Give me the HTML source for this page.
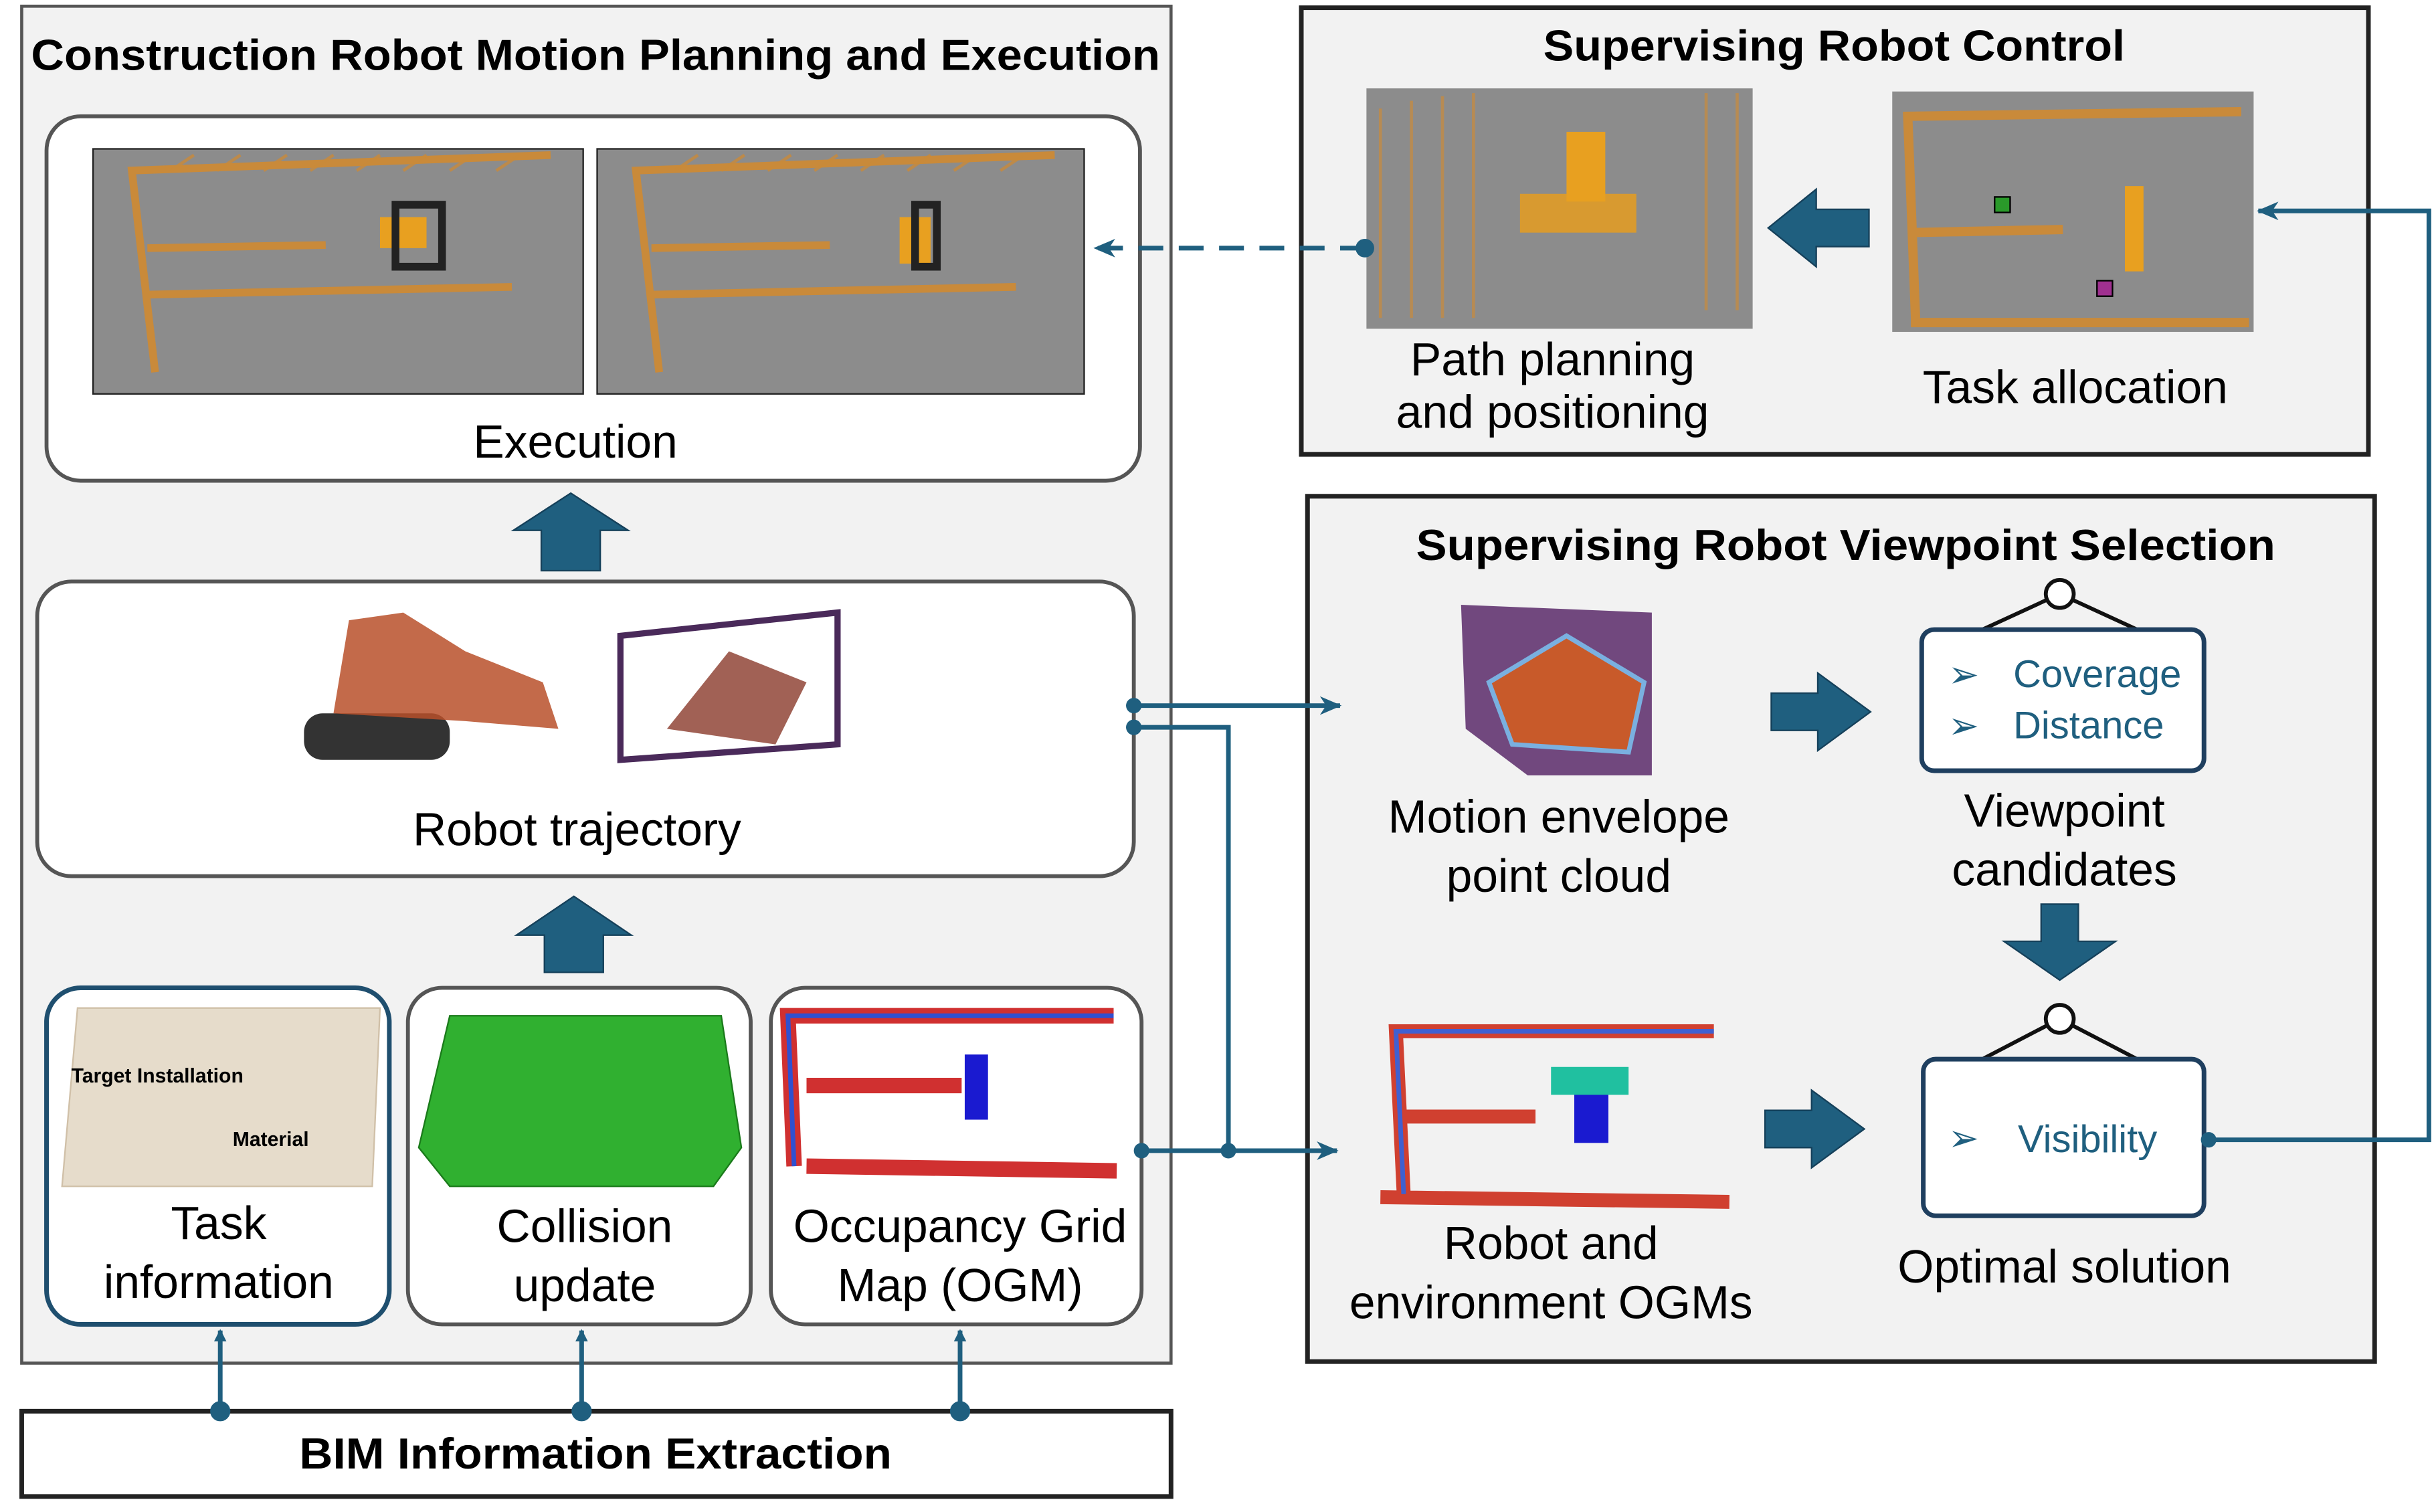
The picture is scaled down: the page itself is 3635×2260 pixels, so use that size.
<!DOCTYPE html>
<html><head><meta charset="utf-8"><style>html,body{margin:0;padding:0;background:#fff}svg{display:block}text{font-family:"Liberation Sans",sans-serif}.b{font-size:30px}</style></head>
<body>
<svg width="3635" height="2260" viewBox="0 0 1568 975" preserveAspectRatio="none" xmlns="http://www.w3.org/2000/svg">
<defs>
<marker id="ah" markerWidth="8" markerHeight="8" refX="7" refY="4" orient="auto" markerUnits="userSpaceOnUse"><path d="M0,0 L8,4 L0,8 Z" fill="#1f5f7f"/></marker>
<marker id="ah2" markerWidth="14" markerHeight="12" refX="13" refY="6" orient="auto" markerUnits="userSpaceOnUse"><path d="M0,0 L14,6 L0,12 L4,6 Z" fill="#1f5f7f"/></marker>
</defs>
<rect x="14" y="4" width="741" height="875" fill="#f2f2f2" stroke="#555" stroke-width="2"/>
<text x="20" y="45" font-size="28" font-weight="bold" textLength="728" lengthAdjust="spacingAndGlyphs">Construction Robot Motion Planning and Execution</text>
<rect x="30" y="75" width="705" height="235" rx="22" fill="#fff" stroke="#555" stroke-width="2.5"/>
<rect x="60" y="96" width="316" height="158" fill="#8c8c8c" stroke="#222"/>
<rect x="385" y="96" width="314" height="158" fill="#8c8c8c" stroke="#222"/>
<g fill="none" stroke="#c98a3a" stroke-width="5">
<path d="M100,240 L85,110 L355,100 M95,190 L330,185 M95,160 L210,158"/>
<path d="M425,240 L410,110 L680,100 M420,190 L655,185 M420,160 L535,158"/>
</g>
<g fill="none" stroke="#c98a3a" stroke-width="2" opacity="0.8">
<path d="M110,110 L125,100 M140,110 L155,100 M170,110 L185,100 M200,110 L215,100 M230,110 L245,100 M260,110 L275,100 M290,110 L305,100 M320,110 L335,100"/>
<path d="M435,110 L450,100 M465,110 L480,100 M495,110 L510,100 M525,110 L540,100 M555,110 L570,100 M585,110 L600,100 M615,110 L630,100 M645,110 L660,100"/>
</g>
<rect x="245" y="140" width="30" height="20" fill="#e8a020"/><rect x="255" y="132" width="30" height="40" fill="none" stroke="#222" stroke-width="5"/>
<rect x="580" y="140" width="20" height="30" fill="#e8a020"/><rect x="590" y="132" width="14" height="40" fill="none" stroke="#222" stroke-width="5"/>
<text x="371" y="295" class="b" text-anchor="middle">Execution</text>
<path d="M331,342 L368,318 L405,342 L387,342 L387,368 L349,368 L349,342 Z" fill="#1f5f7f" stroke="#15405a"/>
<rect x="24" y="375" width="707" height="190" rx="22" fill="#fff" stroke="#555" stroke-width="2.5"/>
<rect x="196" y="460" width="94" height="30" rx="12" fill="#333"/>
<path d="M215,460 L225,400 L260,395 L300,420 L350,440 L360,470 L300,465 Z" fill="#b8502a" opacity="0.85"/>
<path d="M400,490 L400,410 L540,395 L540,480 Z" fill="none" stroke="#4a2a5a" stroke-width="4"/>
<path d="M430,470 L470,420 L520,440 L500,480 Z" fill="#8a3a2a" opacity="0.8"/>
<text x="372" y="545" class="b" text-anchor="middle">Robot trajectory</text>
<path d="M333,603 L370,578 L407,603 L389,603 L389,627 L351,627 L351,603 Z" fill="#1f5f7f" stroke="#15405a"/>
<rect x="30" y="637" width="221" height="217" rx="22" fill="#fff" stroke="#1f4f6f" stroke-width="3"/>
<path d="M40,765 L50,650 L245,650 L240,765 Z" fill="#e6dccb" stroke="#d0c0a8"/>
<text x="46" y="698" font-size="13" font-weight="bold">Target Installation</text>
<text x="150" y="739" font-size="13" font-weight="bold">Material</text>
<text x="141" y="799" class="b" text-anchor="middle">Task</text>
<text x="141" y="837" class="b" text-anchor="middle">information</text>
<rect x="263" y="637" width="221" height="217" rx="22" fill="#fff" stroke="#555" stroke-width="2.5"/>
<path d="M270,740 L290,655 L465,655 L478,740 L460,765 L290,765 Z" fill="#30b030" stroke="#1a7a1a"/>
<text x="377" y="801" class="b" text-anchor="middle">Collision</text>
<text x="377" y="839" class="b" text-anchor="middle">update</text>
<rect x="497" y="637" width="239" height="217" rx="22" fill="#fff" stroke="#555" stroke-width="2.5"/>
<path d="M512,752 L508,655 L718,655 M520,700 L620,700 M520,752 L720,755" fill="none" stroke="#d03030" stroke-width="10"/>
<path d="M512,752 L508,655 L718,655" fill="none" stroke="#3050d0" stroke-width="3"/>
<rect x="622" y="680" width="15" height="42" fill="#1a1ad0"/>
<text x="619" y="801" class="b" text-anchor="middle">Occupancy Grid</text>
<text x="619" y="839" class="b" text-anchor="middle">Map (OGM)</text>
<rect x="14" y="910" width="741" height="55" fill="#fff" stroke="#222" stroke-width="3"/>
<text x="193" y="947" font-size="28" font-weight="bold" textLength="382" lengthAdjust="spacingAndGlyphs">BIM Information Extraction</text>
<g stroke="#1f5f7f" stroke-width="3" fill="#1f5f7f">
<line x1="142" y1="910" x2="142" y2="858" marker-end="url(#ah)"/><circle cx="142" cy="910" r="5"/>
<line x1="375" y1="910" x2="375" y2="858" marker-end="url(#ah)"/><circle cx="375" cy="910" r="5"/>
<line x1="619" y1="910" x2="619" y2="858" marker-end="url(#ah)"/><circle cx="619" cy="910" r="5"/>
</g>
<rect x="839" y="5" width="688" height="288" fill="#f2f2f2" stroke="#222" stroke-width="3"/>
<text x="995" y="39" font-size="28" font-weight="bold" textLength="375" lengthAdjust="spacingAndGlyphs">Supervising Robot Control</text>
<rect x="881" y="57" width="249" height="155" fill="#8c8c8c"/>
<g stroke="#c98a3a" stroke-width="2" fill="none" opacity="0.7"><path d="M890,70 L890,205 M910,65 L910,205 M930,62 L930,205 M950,60 L950,205 M1100,60 L1100,200 M1120,60 L1120,200"/></g>
<rect x="980" y="125" width="75" height="25" fill="#d89a30"/><rect x="1010" y="85" width="25" height="45" fill="#e8a020"/>
<rect x="1220" y="59" width="233" height="155" fill="#8c8c8c"/>
<path d="M1235,205 L1230,75 L1445,72 M1232,150 L1330,148 M1232,208 L1450,208" fill="none" stroke="#c98a3a" stroke-width="6"/>
<rect x="1370" y="120" width="12" height="55" fill="#e8a020"/>
<rect x="1286" y="127" width="10" height="10" fill="#2a9a2a" stroke="#000"/><rect x="1352" y="181" width="10" height="10" fill="#a03090" stroke="#000"/>
<text x="1001" y="242" class="b" text-anchor="middle">Path planning</text>
<text x="1001" y="276" class="b" text-anchor="middle">and positioning</text>
<text x="1338" y="260" class="b" text-anchor="middle">Task allocation</text>
<path d="M1140,147 L1171,122 L1171,135 L1205,135 L1205,159 L1171,159 L1171,172 Z" fill="#1f5f7f" stroke="#15405a"/>
<rect x="843" y="320" width="688" height="558" fill="#f2f2f2" stroke="#222" stroke-width="3"/>
<text x="913" y="361" font-size="28" font-weight="bold" textLength="554" lengthAdjust="spacingAndGlyphs">Supervising Robot Viewpoint Selection</text>
<path d="M945,470 L942,390 L1065,395 L1065,500 L985,500 Z" fill="#5a2a6a" opacity="0.85"/>
<path d="M960,440 L1010,410 L1060,440 L1050,485 L975,480 Z" fill="#c85a2a" stroke="#7ab0e0" stroke-width="3"/>
<text x="1005" y="537" class="b" text-anchor="middle">Motion envelope</text>
<text x="1005" y="575" class="b" text-anchor="middle">point cloud</text>
<path d="M1142,447 L1172,447 L1172,434 L1206,459 L1172,484 L1172,471 L1142,471 Z" fill="#1f5f7f" stroke="#15405a"/>
<g stroke="#111" stroke-width="2.5" fill="none"><line x1="1278" y1="406" x2="1328" y2="383"/><line x1="1378" y1="406" x2="1328" y2="383"/><circle cx="1328" cy="383" r="9" fill="#fff"/>
<line x1="1278" y1="683" x2="1328" y2="657"/><line x1="1378" y1="683" x2="1328" y2="657"/><circle cx="1328" cy="657" r="9" fill="#fff"/></g>
<rect x="1239" y="406" width="182" height="91" rx="8" fill="#fff" stroke="#1f3f5f" stroke-width="3"/>
<text x="1256" y="443" font-size="24" fill="#1f5f7f">➢</text><text x="1298" y="443" font-size="25" fill="#1f5f7f">Coverage</text>
<text x="1256" y="476" font-size="24" fill="#1f5f7f">➢</text><text x="1298" y="476" font-size="25" fill="#1f5f7f">Distance</text>
<text x="1331" y="533" class="b" text-anchor="middle">Viewpoint</text>
<text x="1331" y="571" class="b" text-anchor="middle">candidates</text>
<path d="M1316,583 L1340,583 L1340,607 L1364,607 L1328,632 L1292,607 L1316,607 Z" fill="#1f5f7f" stroke="#15405a"/>
<path d="M905,770 L900,665 L1105,665 M905,720 L990,720 M890,772 L1115,775" fill="none" stroke="#d04030" stroke-width="9"/>
<path d="M905,770 L900,665 L1105,665" fill="none" stroke="#4060d0" stroke-width="3"/>
<rect x="1015" y="695" width="22" height="42" fill="#1a1ad0"/><rect x="1000" y="688" width="50" height="18" fill="#20c0a0"/>
<text x="1000" y="812" class="b" text-anchor="middle">Robot and</text>
<text x="1000" y="850" class="b" text-anchor="middle">environment OGMs</text>
<path d="M1138,716 L1168,716 L1168,703 L1202,728 L1168,753 L1168,740 L1138,740 Z" fill="#1f5f7f" stroke="#15405a"/>
<rect x="1240" y="683" width="181" height="101" rx="8" fill="#fff" stroke="#1f3f5f" stroke-width="3"/>
<text x="1256" y="742" font-size="24" fill="#1f5f7f">➢</text><text x="1301" y="743" font-size="25" fill="#1f5f7f">Visibility</text>
<text x="1331" y="827" class="b" text-anchor="middle">Optimal solution</text>
<g stroke="#1f5f7f" stroke-width="3" fill="none">
<line x1="880" y1="160" x2="706" y2="160" stroke-dasharray="16,10" marker-end="url(#ah2)"/>
<polyline points="1424,735 1566,735 1566,136 1456,136" marker-end="url(#ah2)"/>
<line x1="731" y1="455" x2="864" y2="455" marker-end="url(#ah2)"/>
<polyline points="731,469 792,469 792,742"/>
<line x1="736" y1="742" x2="862" y2="742" marker-end="url(#ah2)"/>
</g>
<g fill="#1f5f7f"><circle cx="880" cy="160" r="6"/><circle cx="1424" cy="735" r="5"/><circle cx="731" cy="455" r="5"/><circle cx="731" cy="469" r="5"/><circle cx="736" cy="742" r="5"/><circle cx="792" cy="742" r="5"/></g>
</svg>
</body></html>
